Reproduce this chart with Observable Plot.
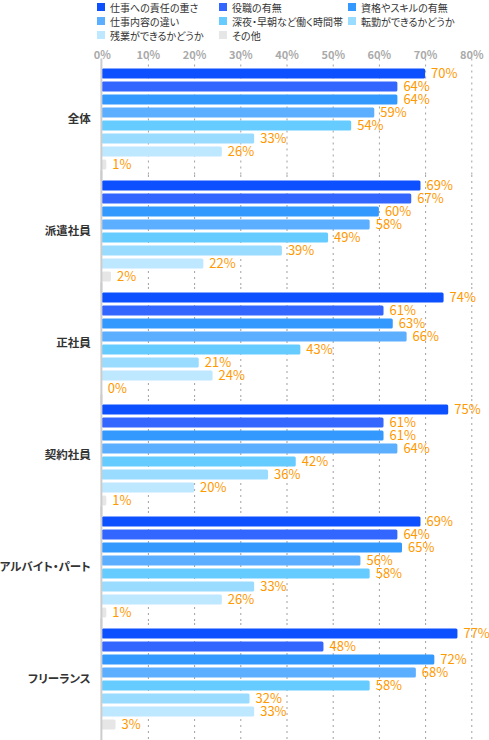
<!DOCTYPE html>
<html>
<head>
<meta charset="utf-8">
<script src="https://cdn.jsdelivr.net/npm/d3@7"></script>
<script src="https://cdn.jsdelivr.net/npm/@observablehq/plot@0.6"></script>
<style>
  body { margin: 0; background: #fff; font-family: "Noto Sans CJK JP", sans-serif; font-feature-settings: "palt"; }
  #wrap { width: 489px; }
  #legend { height: 42px; }
  #legend .grid { display: grid; grid-template-columns: 122px 129px auto; grid-auto-rows: 14px;
    padding-top: 0; padding-left: 97px; font-size: 10px; line-height: 13px; color: #333; }
  #legend .item { display: flex; align-items: center; white-space: nowrap; }
  #legend .sw { width: 8px; height: 8px; margin-right: 5px; flex: none; }
  #chart svg { font-feature-settings: "palt"; }
</style>
</head>
<body>
<div id="wrap">
  <div id="legend"><div class="grid"></div></div>
  <div id="chart"></div>
</div>
<script>
// 属性（凡例の順）
const items = ['仕事への責任の重さ', '役職の有無', '資格やスキルの有無', '仕事内容の違い',
  '深夜・早朝など働く時間帯', '転勤ができるかどうか', '残業ができるかどうか', 'その他']
const colors = ['#0d50ff', '#3366ff', '#3399ff', '#5caeff', '#66ccff', '#99dcff', '#bde8ff', '#e6e6e6']

// 雇用形態
const groups = ['全体', '派遣社員', '正社員', '契約社員', 'アルバイト・パート', 'フリーランス']

// 各雇用形態の値 (%)
const zentai = [70, 64, 64, 59, 54, 33, 26, 1]
const haken = [69, 67, 60, 58, 49, 39, 22, 2]
const seishain = [74, 61, 63, 66, 43, 21, 24, 0]
const keiyaku = [75, 61, 61, 64, 42, 36, 20, 1]
const arubaito = [69, 64, 65, 56, 58, 33, 26, 1]
const freelance = [77, 48, 72, 68, 58, 32, 33, 3]

const xTicks = [0, 10, 20, 30, 40, 50, 60, 70, 80]

const series = [zentai, haken, seishain, keiyaku, arubaito, freelance]
const rows = groups.flatMap((g, gi) => series[gi].map((v, i) => ({ group: g, item: items[i], value: v })))

// legend
const lg = d3.select('#legend .grid')
items.forEach((it, i) => {
    const el = lg.append('div').attr('class', 'item')
    el.append('span').attr('class', 'sw').style('background', colors[i])
    el.append('span').text(it)
})

// grid lines, extended across the gaps between facets
const gridTicks = xTicks.filter(t => t > 0)
const gridRows = (gs) => gs.flatMap(g => gridTicks.map(t => ({ group: g, t })))
const gridStyle = { stroke: '#a0a0a0', strokeWidth: 1, strokeDasharray: '2,4' }

let chart = Plot.plot({
    marks: [
        Plot.ruleX(gridRows([groups[0]]), { x: 't', fy: 'group', ...gridStyle, insetTop: -8.5, insetBottom: -4 }),
        Plot.ruleX(gridRows(groups.slice(1, -1)), { x: 't', fy: 'group', ...gridStyle, insetTop: -4, insetBottom: -4 }),
        Plot.ruleX(gridRows([groups[groups.length - 1]]), { x: 't', fy: 'group', ...gridStyle, insetTop: -4, insetBottom: -9.5 }),
        Plot.barX(rows, { x: 'value', y: 'item', fy: 'group', fill: 'item', rx: 1.5 }),
        Plot.ruleX([0], { stroke: '#cccccc', strokeWidth: 2, dx: -0.8, insetTop: -8.5, insetBottom: -9.5 }),
        Plot.text(rows, {
            x: 'value', y: 'item', fy: 'group', text: d => d.value + '%',
            textAnchor: 'start', dx: 5.5, fill: '#ff9900', fontSize: 13
        }),
        Plot.axisX({
            anchor: 'top', ticks: xTicks, tickFormat: d => d + '%', tickSize: 0, tickPadding: 9,
            label: null, fontSize: 11, fontWeight: 'bold', fill: '#aaaaaa'
        }),
        Plot.axisFy({
            anchor: 'left', label: null, tickSize: 0, tickPadding: 11.5,
            fontSize: 11.5, fontWeight: 'bold', fill: '#333333'
        }),
    ],

    x: { domain: [0, 80] },
    y: { domain: items, paddingInner: 3 / 13, paddingOuter: 1.5 / 13, axis: null },
    fy: { domain: groups, paddingInner: 8 / 112, paddingOuter: 0 },
    color: { domain: items, range: colors },

    style: {
        fontFamily: '"Noto Sans CJK JP", sans-serif',
        background: '#fff',
        overflow: 'visible'
    },

    width: 489,
    height: 698,
    marginTop: 24.5,
    marginBottom: 9.5,
    marginLeft: 101.7,
    marginRight: 17.7
})

d3.select('#chart').append(() => chart)
</script>
</body>
</html>
